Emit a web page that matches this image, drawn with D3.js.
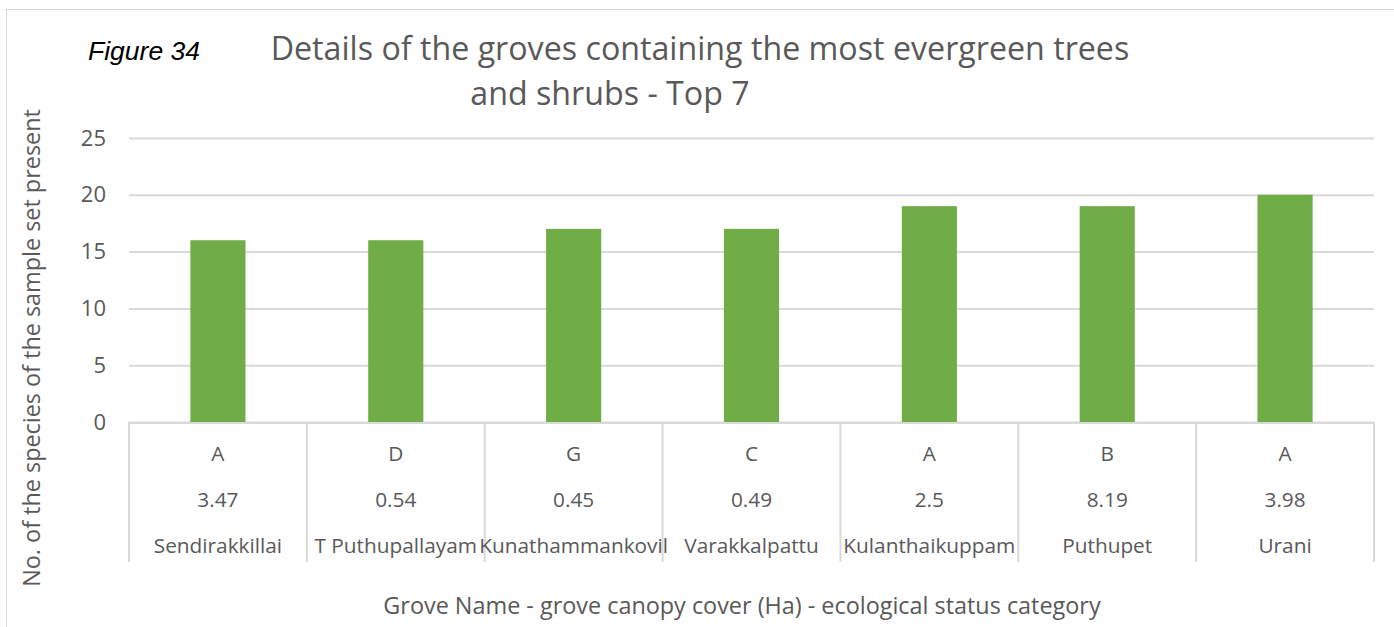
<!DOCTYPE html>
<html>
<head>
<meta charset="utf-8">
<script src="https://cdn.jsdelivr.net/npm/d3@7/dist/d3.min.js"></script>
<style>
  html, body { margin: 0; padding: 0; background: #fff; }
  svg { display: block; }
  text { font-family: "Open Sans", "Noto Sans", sans-serif; fill: #595959; }
</style>
</head>
<body>
<svg id="chart" width="1394" height="627"></svg>
<script>
// Grove data: top 7 groves by number of evergreen species in the sample set
const groveNames = ["Sendirakkillai", "T Puthupallayam", "Kunathammankovil", "Varakkalpattu", "Kulanthaikuppam", "Puthupet", "Urani"];
const canopyCover = ["3.47", "0.54", "0.45", "0.49", "2.5", "8.19", "3.98"];
const statusCategory = ["A", "D", "G", "C", "A", "B", "A"];
const speciesCount = [16, 16, 17, 17, 19, 19, 20];
const yTicks = [0, 5, 10, 15, 20, 25];

const svg = d3.select("#chart");
const W = 1394, H = 627;
const plot = { left: 129, right: 1374, top: 138, bottom: 422 };

// outer chart frame
svg.append("rect")
  .attr("x", 6.5).attr("y", 9.5)
  .attr("width", W + 10).attr("height", H + 10)
  .attr("fill", "none").attr("stroke", "#d9d9d9").attr("stroke-width", 1);

const x = d3.scaleBand()
  .domain(d3.range(groveNames.length))
  .range([plot.left, plot.right])
  .paddingInner(0.69).paddingOuter(0.345);

const xCat = d3.scaleBand()
  .domain(d3.range(groveNames.length))
  .range([plot.left, plot.right]);

const y = d3.scaleLinear().domain([0, 25]).range([plot.bottom, plot.top]);

// gridlines + tick labels
const yAxis = d3.axisLeft(y)
  .tickValues(yTicks)
  .tickSize(-(plot.right - plot.left))
  .tickPadding(23);
const gy = svg.append("g")
  .attr("transform", `translate(${plot.left},0)`)
  .call(yAxis);
gy.select(".domain").remove();
gy.selectAll(".tick line").attr("stroke", "#d9d9d9").attr("stroke-width", 2);
gy.selectAll(".tick text")
  .attr("font-size", 22)
  .attr("fill", "#595959")
  .style("font-family", "\"Open Sans\", sans-serif");

// bars
svg.append("g").selectAll("rect")
  .data(speciesCount)
  .join("rect")
  .attr("x", (d, i) => x(i))
  .attr("y", d => y(d))
  .attr("width", x.bandwidth())
  .attr("height", d => y(0) - y(d))
  .attr("fill", "#70ad47");

// category axis: baseline and separators
const sepBottom = 562;
svg.append("line")
  .attr("x1", plot.left).attr("x2", plot.right)
  .attr("y1", plot.bottom + 1).attr("y2", plot.bottom + 1)
  .attr("stroke", "#d9d9d9").attr("stroke-width", 2);
const seps = d3.range(groveNames.length + 1).map(i => plot.left + i * xCat.step());
svg.append("g").selectAll("line")
  .data(seps)
  .join("line")
  .attr("x1", d => d).attr("x2", d => d)
  .attr("y1", plot.bottom).attr("y2", sepBottom)
  .attr("stroke", "#d9d9d9").attr("stroke-width", 2);

// multi-level category labels
const rows = [
  { values: statusCategory, y: 461 },
  { values: canopyCover, y: 507 },
  { values: groveNames, y: 553 }
];
rows.forEach(r => {
  svg.append("g").selectAll("text")
    .data(r.values)
    .join("text")
    .attr("x", (d, i) => xCat(i) + xCat.bandwidth() / 2)
    .attr("y", r.y)
    .attr("text-anchor", "middle")
    .attr("font-size", 20.8)
    .text(d => d);
});

// titles
svg.append("text")
  .attr("x", 88).attr("y", 60)
  .style("font-family", "\"Liberation Sans\", Arial, sans-serif")
  .style("font-style", "italic")
  .style("fill", "#000")
  .attr("font-size", 26.5)
  .text("Figure 34");

svg.append("text")
  .attr("x", 700).attr("y", 60)
  .attr("text-anchor", "middle")
  .attr("font-size", 32.2)
  .text("Details of the groves containing the most evergreen trees");
svg.append("text")
  .attr("x", 610).attr("y", 105)
  .attr("text-anchor", "middle")
  .attr("font-size", 32.2)
  .text("and shrubs - Top 7");

svg.append("text")
  .attr("transform", `translate(40,${348}) rotate(-90)`)
  .attr("text-anchor", "middle")
  .attr("font-size", 23.4)
  .text("No. of the species of the sample set present");

svg.append("text")
  .attr("x", 742).attr("y", 614)
  .attr("text-anchor", "middle")
  .attr("font-size", 23.4)
  .text("Grove Name - grove canopy cover (Ha) - ecological status category");
</script>
</body>
</html>
